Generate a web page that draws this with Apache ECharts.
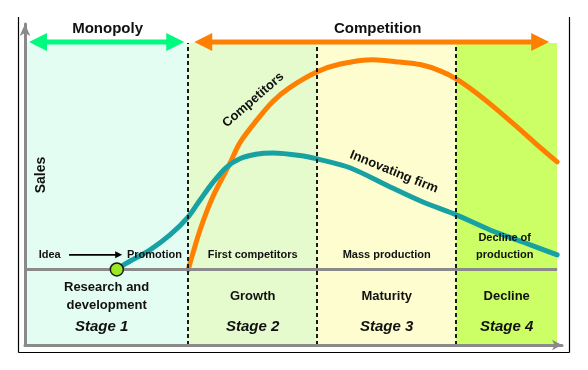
<!DOCTYPE html>
<html>
<head>
<meta charset="utf-8">
<script src="https://cdn.jsdelivr.net/npm/echarts@6/dist/echarts.min.js"></script>
<style>
  html, body { margin: 0; padding: 0; background: #fff; }
  #chart { width: 588px; height: 370px; }
</style>
</head>
<body>
<div id="chart"></div>
<script>
// Product life cycle: sales of the innovating firm and of its competitors
// across the four stages of a product's life.

const stageEdges = [0, 30.4, 54.4, 80.3, 99.1];
const stageNames = ['Research and\ndevelopment', 'Growth', 'Maturity', 'Decline'];
const stageTags = ['Stage 1', 'Stage 2', 'Stage 3', 'Stage 4'];
const stageNotes = ['', 'First competitors', 'Mass production', 'Decline of\nproduction'];

const phaseNames = ['Monopoly', 'Competition'];
const phaseEdges = [0, 30.4, 99.1];

const innovatorTime = [17.1, 19.0, 23.3, 27.0, 30.4, 32.6, 35.0, 37.5, 40.0, 43.0, 46.2, 51.2, 54.4, 60.5, 68.0, 74.1, 80.3, 86.6, 92.7, 99.1];
const innovatorSales = [0, 2.6, 7.8, 13.7, 20.9, 27.6, 34.6, 40.6, 44.0, 45.8, 46.3, 45.3, 43.9, 40.4, 32.8, 26.8, 21.7, 15.7, 10.9, 5.8];

const competitorTime = [30.4, 32.6, 35.0, 38.2, 40.0, 43.2, 46.2, 49.3, 54.4, 58.7, 64.8, 69.8, 73.6, 77.3, 80.3, 83.8, 87.5, 91.2, 95.0, 99.1];
const competitorSales = [0, 15.7, 29.0, 42.3, 50.3, 59.4, 66.8, 72.2, 78.5, 81.6, 83.3, 82.4, 81.4, 78.9, 75.7, 70.5, 64.2, 57.4, 50.2, 42.7];

// styling
const FONT = '"Liberation Sans", Arial, sans-serif';
const stageColors = ['#e4fdf3', '#e6fbcd', '#fdfdcf', '#ccff66'];
const AXIS_GRAY = '#8a8a8a';
const TEAL = '#17a1a3';
const ORANGE = '#ff8000';
const BAND_TOP = 90;   // sales level where the coloured bands stop
const Y_MIN = -30;

const chart = echarts.init(document.getElementById('chart'), null, { renderer: 'canvas' });

const axisCommon = {
  type: 'value',
  z: 10,
  axisTick: { show: false },
  axisLabel: { show: false },
  splitLine: { show: false },
};

const bandAreas = stageNames.map((_, i) => [
  { xAxis: stageEdges[i], yAxis: Y_MIN, itemStyle: { color: stageColors[i] } },
  { xAxis: stageEdges[i + 1], yAxis: BAND_TOP }
]);

const dividerLines = stageEdges.slice(1, -1).map(e => [
  { coord: [e, Y_MIN] },
  { coord: [e, BAND_TOP] }
]);

chart.setOption({
  animation: false,
  backgroundColor: '#ffffff',
  grid: { left: 25, right: 26, top: 24, bottom: 25 },
  xAxis: Object.assign({}, axisCommon, {
    min: 0, max: 100,
    axisLine: { show: true, onZero: false, symbol: ['none', 'arrow'], symbolSize: [8, 10], lineStyle: { color: AXIS_GRAY, width: 3 } }
  }),
  yAxis: Object.assign({}, axisCommon, {
    min: Y_MIN, max: 97.5,
    axisLine: { show: true, onZero: false, symbol: ['none', 'arrow'], symbolSize: [8, 12], lineStyle: { color: AXIS_GRAY, width: 3 } }
  }),
  series: [
    {
      name: 'stages',
      type: 'line',
      data: [],
      silent: true,
      markArea: { silent: true, data: bandAreas },
      markLine: {
        silent: true,
        symbol: 'none',
        label: { show: false },
        data: [
          ...dividerLines.map(d => [
            Object.assign({}, d[0], { lineStyle: { color: '#1a1a1a', width: 2, type: [4, 3] } }),
            d[1]
          ]),
          [
            { coord: [stageEdges[0], 0], lineStyle: { color: AXIS_GRAY, width: 3, type: 'solid' } },
            { coord: [stageEdges[stageEdges.length - 1], 0] }
          ]
        ]
      }
    },
    {
      name: 'Competitors',
      type: 'line',
      smooth: 0.3,
      showSymbol: false,
      silent: true,
      data: competitorTime.map((t, i) => [t, competitorSales[i]]),
      lineStyle: { color: ORANGE, width: 5, cap: 'round' },
      z: 3
    },
    {
      name: 'Innovating firm',
      type: 'line',
      smooth: 0.3,
      showSymbol: false,
      silent: true,
      data: innovatorTime.map((t, i) => [t, innovatorSales[i]]),
      lineStyle: { color: TEAL, width: 5, cap: 'round' },
      z: 4
    },
    {
      name: 'launch',
      type: 'scatter',
      silent: true,
      data: [[innovatorTime[0], innovatorSales[0]]],
      symbolSize: 13,
      itemStyle: { color: '#9be824', borderColor: '#1a1a1a', borderWidth: 1.5, opacity: 1 },
      z: 6
    }
  ]
});

// ---- annotations placed from axis coordinates ----
const px = (x, y) => chart.convertToPixel({ gridIndex: 0 }, [x, y]);

function text(str, pos, font, opts) {
  return Object.assign({
    type: 'text',
    x: pos[0], y: pos[1],
    z: 20,
    style: Object.assign({
      text: str,
      font: font,
      fill: '#111',
      align: 'center',
      verticalAlign: 'middle'
    }, (opts && opts.style) || {})
  }, opts && opts.rotation !== undefined ? { rotation: opts.rotation } : {});
}

function arrowHead(tipX, y, dir, len, half, color) {
  return {
    type: 'polygon', z: 15,
    shape: { points: [[tipX, y], [tipX - dir * len, y - half], [tipX - dir * len, y + half]] },
    style: { fill: color }
  };
}

function phaseArrow(x1, x2, y, color, bothEnds) {
  const len = 18, half = 9;
  const els = [{
    type: 'line', z: 15,
    shape: { x1: bothEnds ? x1 + len - 2 : x1, y1: y, x2: x2 - len + 2, y2: y },
    style: { stroke: color, lineWidth: 5 }
  }];
  if (bothEnds) els.push(arrowHead(x1, y, -1, len, half, color));
  els.push(arrowHead(x2, y, 1, len, half, color));
  return els;
}

const graphics = [];

// frame around the figure
const frame = { stroke: '#000', lineWidth: 1.2 };
graphics.push(
  { type: 'line', z: 30, shape: { x1: 18.5, y1: 17, x2: 18.5, y2: 352.5 }, style: frame },
  { type: 'line', z: 30, shape: { x1: 18.5, y1: 352.5, x2: 569.5, y2: 352.5 }, style: frame },
  { type: 'line', z: 30, shape: { x1: 569.5, y1: 17, x2: 569.5, y2: 352.5 }, style: frame }
);

// phase arrows above the bands
const arrowY = px(0, BAND_TOP)[1] - 1;
const pStart = px(phaseEdges[0], 0)[0];
const pMid = px(phaseEdges[1], 0)[0];
const pEnd = px(phaseEdges[2], 0)[0];
graphics.push(...phaseArrow(pStart + 4, pMid - 4, arrowY, '#00fa7d', true));
graphics.push(...phaseArrow(pMid + 6, pEnd - 8, arrowY, ORANGE, true));
graphics.push(text(phaseNames[0], [(pStart + pMid) / 2 + 1, arrowY - 13], 'bold 15px ' + FONT));
graphics.push(text(phaseNames[1], [(pMid + pEnd) / 2 + 5, arrowY - 13], 'bold 15px ' + FONT));

// stage labels
stageNames.forEach((name, i) => {
  const cx = px((stageEdges[i] + stageEdges[i + 1]) / 2, 0)[0];
  graphics.push(text(name, [cx, px(0, -10.8)[1]], 'bold 13px ' + FONT, { style: { lineHeight: 18 } }));
  graphics.push(text(stageTags[i], [cx - (i === 0 ? 5 : 0), px(0, -22.9)[1]], 'italic bold 15px ' + FONT));
  if (stageNotes[i]) {
    const multi = stageNotes[i].indexOf('\n') >= 0;
    graphics.push(text(stageNotes[i], [cx - (multi ? 2 : 0), px(0, multi ? 9.1 : 5.8)[1]],
      'bold 11px ' + FONT, { style: { lineHeight: 17 } }));
  }
});

// idea -> promotion in stage 1
const noteY = px(0, 5.8)[1];
graphics.push(text('Idea', [px(4.6, 0)[0], noteY], 'bold 11px ' + FONT));
graphics.push(text('Promotion', [px(24.1, 0)[0], noteY], 'bold 11px ' + FONT));
const ia = px(8.2, 0)[0], ib = px(18.1, 0)[0];
graphics.push({ type: 'line', z: 15, shape: { x1: ia, y1: noteY, x2: ib - 6, y2: noteY }, style: { stroke: '#000', lineWidth: 1.6 } });
graphics.push(arrowHead(ib, noteY, 1, 7, 3.5, '#000'));

// axis and curve labels
graphics.push(text('Sales', px(3.0, 37.5), 'bold 14px ' + FONT, { rotation: Math.PI / 2 }));
graphics.push(text('Competitors', px(42.5, 67.3), 'bold 13px ' + FONT, { rotation: 41 * Math.PI / 180 }));
graphics.push(text('Innovating firm', px(68.7, 38.7), 'bold 13px ' + FONT, { rotation: -22 * Math.PI / 180 }));

chart.setOption({ graphic: graphics });
</script>
</body>
</html>
